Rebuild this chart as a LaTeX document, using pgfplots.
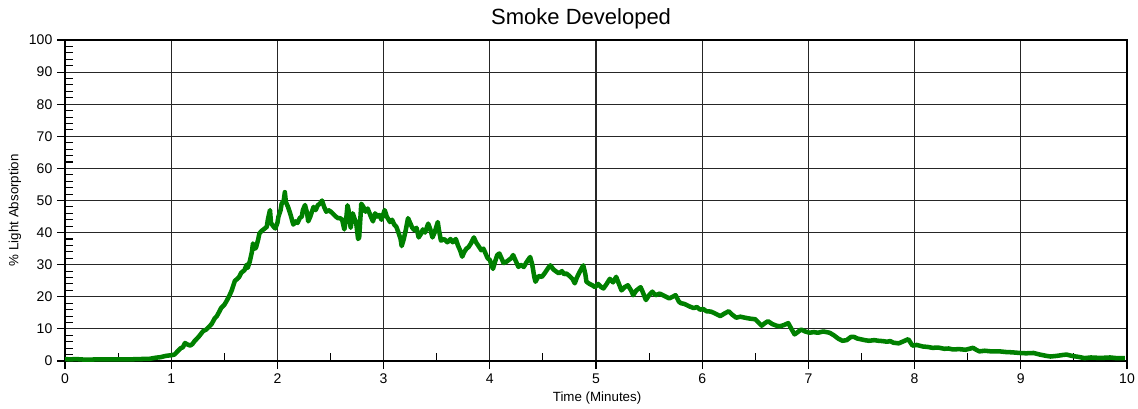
\documentclass[border=0pt]{standalone}
\usepackage{fontspec}
\setmainfont{Liberation Sans}
\usepackage{pgfplots}
\pgfplotsset{compat=1.18}
\definecolor{SmokeGreen}{RGB}{0,128,0}

\begin{document}
\begin{tikzpicture}
\path[use as bounding box] (-48.75pt,-35.25pt) rectangle (804.75pt,270.75pt);
\begin{axis}[
    scale only axis,
    width=796.5pt,
    height=240.75pt,
    xmin=0, xmax=10,
    ymin=0, ymax=100,
    xtick={0,1,...,10},
    ytick={0,10,...,100},
    minor x tick num=1,
    minor y tick num=4,
    tick pos=left,
    tick align=outside,
    major tick length=6pt,
    minor tick length=-6pt,
    tick style={black, line width=0.8pt},
    grid=major,
    major grid style={black!85, line width=0.8pt},
    axis line style={black, line width=0.8pt},
    ticklabel style={font=\fontsize{10.5}{12}\selectfont},
    /pgf/number format/assume math mode=true,
    title={Smoke Developed},
    title style={font=\fontsize{16.5}{19}\selectfont, at={(rel axis cs:0.486,1)}, anchor=center, yshift=9.75pt},
    xlabel={Time (Minutes)},
    xlabel style={font=\fontsize{10}{12}\selectfont, at={(rel axis cs:0.501,0)}, anchor=center, yshift=-27.75pt},
    ylabel={\% Light Absorption},
    ylabel style={font=\fontsize{10}{12}\selectfont, at={(rel axis cs:0,0.47)}, anchor=center, yshift=37.5pt},
]
\addplot[SmokeGreen, line width=3.4pt, line join=round] coordinates {
(0,0.6) (0.05,0.5) (0.1,0.6) (0.2,0.4) (0.3,0.5) (0.4,0.5) (0.5,0.5) (0.6,0.5) (0.7,0.6) (0.8,0.7)
(0.85,1.0) (0.9,1.2) (0.95,1.6) (1.0,1.8) (1.03,2.0) (1.06,3.0) (1.09,4.0) (1.11,4.3) (1.13,5.6) (1.15,5.2)
(1.18,4.8) (1.20,5.3) (1.22,6.2) (1.26,7.6) (1.30,9.3) (1.33,9.8) (1.36,10.8) (1.38,11.5) (1.41,13.3) (1.43,14.0)
(1.45,15.2) (1.47,16.5) (1.50,17.5) (1.52,18.6) (1.55,20.5) (1.57,22) (1.59,24) (1.60,25) (1.62,25.5) (1.64,26.2)
(1.66,27.5) (1.69,28.3) (1.71,30) (1.72,29) (1.74,31) (1.76,34) (1.77,36.6) (1.79,35) (1.80,35.5) (1.82,38)
(1.83,39.7) (1.85,40.5) (1.87,41) (1.90,41.8) (1.91,44) (1.93,47) (1.94,43) (1.96,42) (1.98,41.3) (2.00,43)
(2.01,45) (2.03,47) (2.04,49) (2.06,50) (2.07,52.6) (2.08,49.5) (2.10,48) (2.12,46) (2.15,42.5) (2.17,43.5)
(2.19,43) (2.21,44.5) (2.23,45) (2.24,47) (2.26,48.6) (2.28,46) (2.29,43.5) (2.31,45) (2.33,47) (2.34,48)
(2.36,47) (2.38,48.5) (2.40,49) (2.42,50) (2.44,48) (2.46,46.5) (2.48,47) (2.50,46.6) (2.52,46) (2.55,45)
(2.57,44.5) (2.59,44.5) (2.61,44) (2.63,41) (2.65,45) (2.66,48.5) (2.67,47) (2.69,41.5) (2.71,46) (2.73,44)
(2.74,43.5) (2.76,38) (2.77,38.5) (2.79,49) (2.81,48) (2.83,46.5) (2.85,47.5) (2.88,45) (2.90,43.5) (2.92,46)
(2.94,45) (2.96,45.5) (2.98,44) (3.01,47) (3.03,45) (3.06,43.3) (3.08,44) (3.10,42.5) (3.12,41.8) (3.14,40)
(3.16,38) (3.17,35.8) (3.19,38) (3.21,41) (3.23,44.5) (3.25,43) (3.27,41.5) (3.29,40.8) (3.31,41.5) (3.33,38.5)
(3.35,39.5) (3.37,41) (3.39,40) (3.42,42.8) (3.44,41) (3.46,38.5) (3.48,40) (3.51,43.3) (3.52,41) (3.54,37.5)
(3.57,38) (3.60,37) (3.63,38) (3.65,37) (3.68,38) (3.70,36) (3.72,34.5) (3.74,32.5) (3.76,34) (3.78,35)
(3.80,35.5) (3.82,36.5) (3.85,38.5) (3.87,37) (3.90,35.5) (3.92,34.5) (3.94,35) (3.96,33.5) (3.98,32) (4.00,31.5)
(4.02,29.5) (4.03,28.7) (4.05,31) (4.07,33) (4.09,33.5) (4.11,32) (4.13,30.5) (4.16,31) (4.18,31.5) (4.20,32)
(4.22,33) (4.24,31.5) (4.27,29.3) (4.29,30) (4.32,29.3) (4.35,31) (4.38,32.4) (4.40,30) (4.42,26) (4.43,24.7)
(4.46,26.5) (4.49,26.2) (4.52,27.5) (4.55,29) (4.57,29.8) (4.60,28.5) (4.62,28) (4.65,27.3) (4.68,28) (4.70,27)
(4.72,27.3) (4.75,26.5) (4.78,25.5) (4.80,24.2) (4.82,26) (4.85,28) (4.88,29.8) (4.90,27) (4.91,24.7) (4.94,24)
(4.97,23.5) (4.99,23) (5.02,24) (5.05,23) (5.07,22.6) (5.10,24) (5.13,25.6) (5.16,24.5) (5.19,26.2) (5.21,24.5)
(5.24,22) (5.27,23) (5.30,23.6) (5.33,22) (5.35,20.5) (5.38,22) (5.42,23) (5.44,21.5) (5.47,19) (5.50,20.5)
(5.53,21.6) (5.56,20.5) (5.60,21) (5.63,20.5) (5.66,20) (5.69,19.5) (5.72,20) (5.75,20.5) (5.78,18.5) (5.80,18)
(5.83,17.8) (5.85,17.5) (5.88,17) (5.92,16.5) (5.95,16.8) (5.98,16) (6.01,16.2) (6.04,15.5) (6.08,15.4) (6.11,15)
(6.14,14.5) (6.17,14) (6.21,14.8) (6.25,15.5) (6.28,14.5) (6.32,13.5) (6.36,13.8) (6.40,13.5) (6.45,13.2) (6.50,13)
(6.53,12) (6.56,11) (6.59,11.8) (6.62,12.4) (6.66,11.5) (6.70,11) (6.73,10.8) (6.77,11.2) (6.81,11.8) (6.84,10)
(6.87,8.3) (6.90,9) (6.93,9.8) (6.97,9.2) (7.01,8.8) (7.05,9) (7.09,8.8) (7.14,9.2) (7.20,8.8) (7.24,8)
(7.28,7) (7.32,6.3) (7.36,6.5) (7.40,7.5) (7.43,7.5) (7.46,7) (7.49,6.8) (7.53,6.5) (7.57,6.3) (7.62,6.5)
(7.66,6.3) (7.70,6.2) (7.74,6) (7.77,6.2) (7.80,5.7) (7.85,5.5) (7.90,6.2) (7.94,6.8) (7.98,4.8) (8.02,5)
(8.08,4.5) (8.12,4.4) (8.17,4.1) (8.22,4.2) (8.28,3.8) (8.32,3.9) (8.36,3.6) (8.42,3.7) (8.48,3.5) (8.55,4.1)
(8.58,3.5) (8.61,3.0) (8.66,3.2) (8.72,3.0) (8.80,3.0) (8.86,2.8) (8.92,2.7) (8.99,2.5) (9.05,2.4) (9.12,2.5)
(9.18,2.0) (9.24,1.6) (9.28,1.4) (9.34,1.6) (9.40,1.9) (9.43,2.0) (9.48,1.6) (9.54,1.3) (9.60,0.9) (9.66,1.1)
(9.72,1.0) (9.78,1.0) (9.84,1.1) (9.90,0.9) (9.98,0.9)
};
\end{axis}
\end{tikzpicture}
\end{document}
